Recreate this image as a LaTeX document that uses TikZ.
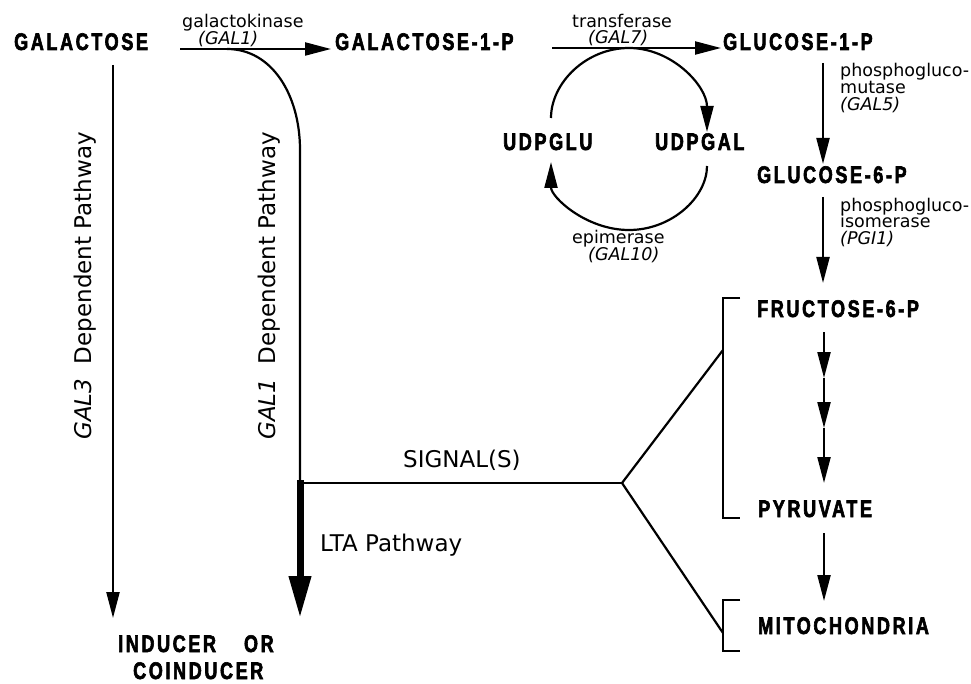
\documentclass[tikz,border=0pt]{standalone}
\usepackage{fontspec}
\usetikzlibrary{arrows.meta}
\setmainfont{DejaVu Sans}
\newfontfamily\boldlab{Liberation Sans}[FakeStretch=0.75,LetterSpace=11,BoldFeatures={FakeBold=2.5}]
\tikzset{
  big/.style={font=\boldlab\bfseries\fontsize{24}{26}\selectfont, inner sep=0pt, anchor=base west},
  small/.style={font=\fontsize{17.5}{17}\selectfont, inner sep=0pt, anchor=base west},
  mid/.style={font=\fontsize{23}{26}\selectfont, inner sep=0pt, anchor=base west},
  conn/.style={line width=2.2pt, -{Triangle[length=26pt,width=13pt]}},
  plainline/.style={line width=2.2pt},
  thickconn/.style={line width=7pt, -{Triangle[length=42pt,width=21pt]}},
}
\begin{document}
\begin{tikzpicture}[x=1pt,y=-1pt]
\useasboundingbox (0,0) rectangle (971,684);

% ---- bold metabolite labels ----
\node[big] (gal)  at (14,50)  {GALACTOSE};
\node[big] (gal1p) at (335,50) {GALACTOSE-1-P};
\node[big] (glc1p) at (723,50) {GLUCOSE-1-P};
\node[big] (udpglu) at (503,150) {UDPGLU};
\node[big] (udpgal) at (655,150) {UDPGAL};
\node[big] (glc6p) at (757,183) {GLUCOSE-6-P};
\node[big] (f6p)  at (757,317) {FRUCTOSE-6-P};
\node[big] (pyr)  at (758,517) {PYRUVATE};
\node[big] (mito) at (758,634) {MITOCHONDRIA};
\node[big] (ind)  at (118,652) {INDUCER\hspace{28pt}OR};
\node[big] (coind) at (133,679) {COINDUCER};

% ---- enzyme labels ----
\node[small] (gk1) at (182,28) {galactokinase};
\node[small] (gk2) at (198,45) {\itshape (GAL1)};
\node[small] (tf1) at (572,28) {transferase};
\node[small] (tf2) at (588,44) {\itshape (GAL7)};
\node[small] (ep1) at (572,244) {epimerase};
\node[small] (ep2) at (588,261) {\itshape (GAL10)};
\node[small] (pm1) at (840,77) {phosphogluco-};
\node[small] (pm2) at (840,94) {mutase};
\node[small] (pm3) at (840,111) {\itshape (GAL5)};
\node[small] (pi1) at (840,212) {phosphogluco-};
\node[small] (pi2) at (840,228) {isomerase};
\node[small] (pi3) at (840,245) {\itshape (PGI1)};

% ---- pathway labels ----
\node[mid, rotate=90] (p3) at (91,440) {\itshape GAL3\upshape\ \ Dependent Pathway};
\node[mid, rotate=90] (p1) at (275,440) {\itshape GAL1\upshape\ \ Dependent Pathway};
\node[mid] (sig) at (403,467) {SIGNAL(S)};
\node[mid] (lta) at (320,551) {LTA Pathway};

% ---- connector end points ----
\coordinate (a1s) at (180,49);  \coordinate (a1e) at (331,49);
\coordinate (a2s) at (552,48);  \coordinate (a2e) at (721,48);
\coordinate (curveS) at (227,49);
\coordinate (junc) at (300,483);
\coordinate (ltaEnd) at (300,618);
\coordinate (g3s) at (113,65);  \coordinate (g3e) at (113,618);
\coordinate (v1s) at (823,63);  \coordinate (v1e) at (823,164);
\coordinate (v2s) at (823,197); \coordinate (v2e) at (823,283);
\coordinate (gl0) at (824,332); \coordinate (gl1) at (824,378);
\coordinate (gl2) at (824,428); \coordinate (gl3) at (824,483);
\coordinate (v3s) at (824,533); \coordinate (v3e) at (824,601);
\coordinate (branch) at (622,483);
\coordinate (bu) at (723,350);
\coordinate (bl) at (723,633);

% ---- main arrows ----
\draw[conn] (a1s) -- (a1e);
\draw[conn] (a2s) -- (a2e);
\draw[conn] (g3s) -- (g3e);
\draw[plainline] (curveS) .. controls (272,49) and (300,95) .. (300,150) -- (junc);
\draw[thickconn] (300,480) -- (ltaEnd);
\draw[plainline] (junc) -- (branch);
\draw[plainline] (branch) -- (bu);
\draw[plainline] (branch) -- (bl);

% ---- cycle ----
\draw[conn] (551,118) .. controls (551,83) and (586,48) .. (629,48)
            .. controls (672,48) and (707,86) .. (707,132);
\draw[conn] (707,166) .. controls (707,197) and (672,230) .. (629,230)
            .. controls (586,230) and (551,197) .. (551,162);

% ---- right column ----
\draw[conn] (v1s) -- (v1e);
\draw[conn] (v2s) -- (v2e);
\draw[conn] (gl0) -- (gl1);
\draw[conn] (gl1) -- (gl2);
\draw[conn] (gl2) -- (gl3);
\draw[conn] (v3s) -- (v3e);

% ---- brackets ----
\draw[plainline] (740,298) -- (723,298) -- (723,518) -- (740,518);
\draw[plainline] (740,600) -- (723,600) -- (723,651) -- (740,651);
\end{tikzpicture}
\end{document}
